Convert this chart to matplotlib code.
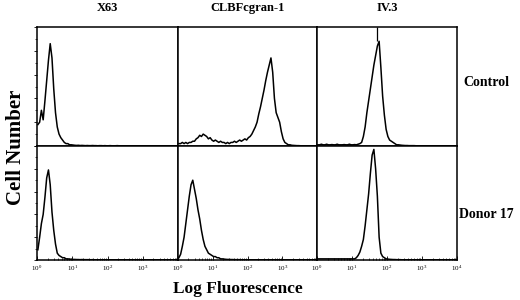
import numpy as np
import matplotlib
matplotlib.use("Agg")
import matplotlib.pyplot as plt
from matplotlib.ticker import FixedLocator, NullFormatter

plt.rcParams['font.family'] = ['Liberation Serif', 'DejaVu Serif']

# channel centres, in decades (0.05 decade bins from 10^0 to 10^4)
decades = np.arange(80) * 0.05 + 0.025

col_titles = ["X63", "CLBFcgran-1", "IV.3"]
row_titles = ["Control", "Donor 17"]

# cell counts per channel, % of panel height
control_x63 = [18, 20, 30, 22, 38, 55, 72, 86, 74, 48, 28, 16, 10, 7, 5, 3, 2, 2, 1, 1,
               0.8, 0.6, 0.5, 0.6, 0.4, 0.5, 0.4, 0.3, 0.4, 0.3, 0.3, 0.4, 0.3, 0.3, 0.2, 0.3, 0.3, 0.2, 0.3, 0.2,
               0.2, 0.3, 0.2, 0.2, 0.2, 0.3, 0.2, 0.2, 0.2, 0.2, 0.2, 0.2, 0.2, 0.2, 0.2, 0.2, 0.2, 0.2, 0.2, 0.2,
               0.2, 0.2, 0.2, 0.2, 0.2, 0.2, 0.2, 0.2, 0.2, 0.2, 0.2, 0.2, 0.2, 0.2, 0.2, 0.2, 0.2, 0.2, 0.2, 0.2]
control_clbf = [2, 2, 3, 2, 3, 2, 3, 3, 4, 4, 6, 7, 9, 8, 10, 9, 8, 6, 7, 5,
                4, 5, 4, 3, 4, 3, 3, 2, 3, 2, 3, 3, 4, 3, 4, 5, 4, 5, 6, 5,
                7, 8, 10, 13, 16, 20, 27, 33, 40, 47, 55, 62, 68, 74, 62, 40, 28, 24, 20, 12,
                6, 3, 2, 1, 1, 0.6, 0.5, 0.4, 0.3, 0.3, 0.2, 0.2, 0.2, 0.2, 0.2, 0.2, 0.2, 0.2, 0.2, 0.2]
control_iv3 = [1, 1, 1.5, 1, 1, 1.5, 1, 1, 1.2, 1, 1, 1.5, 1, 1, 1, 1.2, 1, 1, 1.5, 1,
               1, 1.2, 1, 1.5, 2, 3, 8, 16, 28, 38, 48, 58, 68, 76, 84, 88, 66, 42, 26, 14,
               8, 5, 4, 3, 2, 1, 1, 0.8, 0.6, 0.5, 0.4, 0.4, 0.3, 0.3, 0.3, 0.3, 0.2, 0.2, 0.2, 0.2,
               0.2, 0.2, 0.2, 0.2, 0.2, 0.2, 0.2, 0.2, 0.2, 0.2, 0.2, 0.2, 0.2, 0.2, 0.2, 0.2, 0.2, 0.2, 0.2, 0.2]
donor_x63 = [9, 20, 32, 40, 55, 72, 79, 66, 42, 26, 14, 6, 4, 3, 2, 2, 1, 1, 0.8, 0.6,
             0.5, 0.5, 0.4, 0.4, 0.3, 0.4, 0.3, 0.3, 0.3, 0.3, 0.2, 0.3, 0.2, 0.2, 0.2, 0.2, 0.2, 0.2, 0.2, 0.2,
             0.2, 0.2, 0.2, 0.2, 0.2, 0.2, 0.2, 0.2, 0.2, 0.2, 0.2, 0.2, 0.2, 0.2, 0.2, 0.2, 0.2, 0.2, 0.2, 0.2,
             0.2, 0.2, 0.2, 0.2, 0.2, 0.2, 0.2, 0.2, 0.2, 0.2, 0.2, 0.2, 0.2, 0.2, 0.2, 0.2, 0.2, 0.2, 0.2, 0.2]
donor_clbf = [2, 5, 12, 20, 32, 44, 56, 66, 70, 62, 54, 44, 36, 26, 18, 12, 9, 6, 5, 4,
              3, 3, 2, 2, 1, 1, 0.8, 0.6, 0.5, 0.5, 0.4, 0.4, 0.3, 0.3, 0.3, 0.3, 0.2, 0.2, 0.2, 0.2,
              0.2, 0.2, 0.2, 0.2, 0.2, 0.2, 0.2, 0.2, 0.2, 0.2, 0.2, 0.2, 0.2, 0.2, 0.2, 0.2, 0.2, 0.2, 0.2, 0.2,
              0.2, 0.2, 0.2, 0.2, 0.2, 0.2, 0.2, 0.2, 0.2, 0.2, 0.2, 0.2, 0.2, 0.2, 0.2, 0.2, 0.2, 0.2, 0.2, 0.2]
donor_iv3 = [1, 1, 1, 1, 1, 1, 1, 1, 1, 1, 1, 1, 1, 1, 1, 1, 1, 1, 1, 1,
             1, 1, 2, 4, 7, 12, 18, 30, 44, 58, 76, 92, 97, 80, 56, 20, 6, 3, 2, 1,
             0.8, 0.6, 0.5, 0.4, 0.4, 0.3, 0.3, 0.3, 0.2, 0.2, 0.2, 0.2, 0.2, 0.2, 0.2, 0.2, 0.2, 0.2, 0.2, 0.2,
             0.2, 0.2, 0.2, 0.2, 0.2, 0.2, 0.2, 0.2, 0.2, 0.2, 0.2, 0.2, 0.2, 0.2, 0.2, 0.2, 0.2, 0.2, 0.2, 0.2]

panels = [[control_x63, control_clbf, control_iv3],
          [donor_x63, donor_clbf, donor_iv3]]

# marker cursor drawn in the control IV.3 panel (decade position)
cursor_decade = 1.72

fig = plt.figure(figsize=(5.2, 3.0), dpi=100)
W, H = 520.0, 300.0
col_px = [37, 178, 317, 457]
row_px = [27, 146, 260]

major = [10.0 ** k for k in range(5)]
minor = [m * 10.0 ** k for k in range(4) for m in range(2, 10)]

for r in range(2):
    for c in range(3):
        x0, x1 = col_px[c], col_px[c + 1]
        y0, y1 = row_px[r], row_px[r + 1]
        ax = fig.add_axes([x0 / W, 1 - y1 / H, (x1 - x0) / W, (y1 - y0) / H])
        counts = np.array(panels[r][c])
        ax.plot(10 ** decades, counts, color='black', lw=1.1)
        if r == 0 and c == 2:
            ax.vlines(10 ** cursor_decade, counts.max(), 100, color='black', lw=0.9)
        ax.set_xscale('log')
        ax.set_xlim(1, 10 ** 4)
        ax.set_ylim(0, 100)
        for s in ax.spines.values():
            s.set_linewidth(1.1)
            s.set_color('black')

        ax.xaxis.set_major_locator(FixedLocator(major))
        ax.xaxis.set_minor_locator(FixedLocator(minor))
        ax.xaxis.set_minor_formatter(NullFormatter())
        if r == 1:
            labs = [r'$\mathregular{10^{%d}}$' % k for k in range(5)]
            if c < 2:
                labs[-1] = ''
            ax.set_xticklabels(labs, fontsize=5)
            ax.tick_params(axis='x', which='major', direction='in', length=3, width=0.6, pad=2.5)
            ax.tick_params(axis='x', which='minor', direction='in', length=1.5, width=0.5)
        else:
            ax.tick_params(axis='x', which='both', length=0, labelbottom=False)

        if c == 0:
            ax.set_yticks([0, 20, 40, 60, 80, 100])
            ax.set_yticks([10, 30, 50, 70, 90], minor=True)
            ax.tick_params(axis='y', which='major', direction='out', length=2.5, width=0.6, labelleft=False)
            ax.tick_params(axis='y', which='minor', direction='out', length=1.5, width=0.5)
        else:
            ax.set_yticks([])

        if r == 0:
            fig.text((x0 + x1) / 2 / W, 1 - 8 / H, col_titles[c], ha='center', va='center',
                     fontsize=9, fontweight='bold')

for r in range(2):
    fig.text(486 / W, 1 - [82, 215][r] / H, row_titles[r], ha='center', va='center',
             fontsize=10, fontweight='bold')

fig.text(16 / W, 1 - 147 / H, "Cell Number", rotation=90, ha='center', va='center',
         fontsize=15, fontweight='bold')
fig.text(238 / W, 1 - 289 / H, "Log Fluorescence", ha='center', va='center',
         fontsize=12.5, fontweight='bold')

fig.savefig("out.png", dpi=100)
